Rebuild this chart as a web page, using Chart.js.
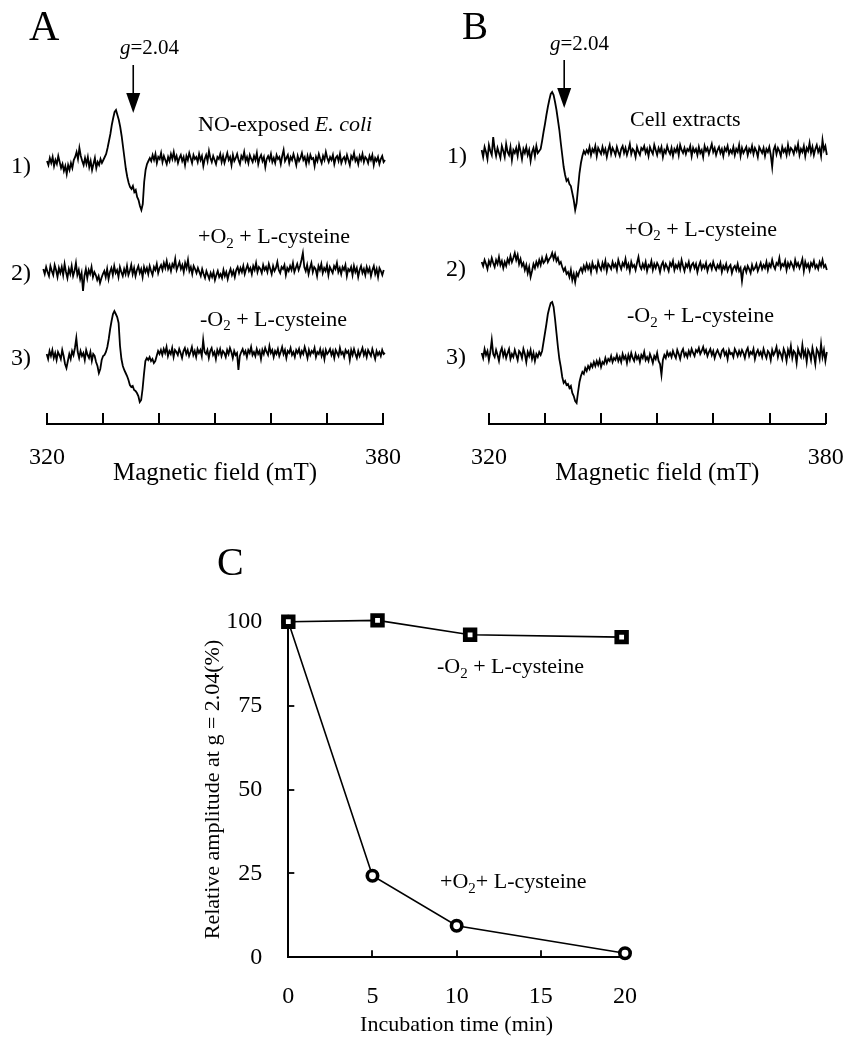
<!DOCTYPE html>
<html><head><meta charset="utf-8">
<script src="https://cdn.jsdelivr.net/npm/chart.js@4.4.1/dist/chart.umd.min.js"></script>
<style>
html,body{margin:0;padding:0;background:#fff;}
#fig{position:relative;width:855px;height:1050px;overflow:hidden;font-family:'Liberation Serif','Times New Roman',serif;color:#000;}
canvas{position:absolute;}
.t{position:absolute;white-space:nowrap;line-height:1;}
.s{font-size:0.68em;position:relative;top:0.32em;}
</style></head><body>
<div id="fig">
<canvas id="cA" width="430" height="500" style="left:0;top:0;width:430px;height:500px"></canvas>
<canvas id="cB" width="425" height="500" style="left:430px;top:0;width:425px;height:500px"></canvas>
<canvas id="cC" width="550" height="550" style="left:150px;top:500px;width:550px;height:550px"></canvas>

<div class="t" style="left:29px;top:4.8px;font-size:42px">A</div>
<div class="t" style="left:120px;top:37.4px;font-size:21px"><i>g</i>=2.04</div>
<div class="t" style="left:198px;top:113.3px;font-size:22px">NO-exposed <i>E. coli</i></div>
<div class="t" style="left:11px;top:152.9px;font-size:24px">1)</div>
<div class="t" style="left:198px;top:224.9px;font-size:22px">+O<span class="s">2</span> + L-cysteine</div>
<div class="t" style="left:11px;top:259.9px;font-size:24px">2)</div>
<div class="t" style="left:200px;top:307.6px;font-size:22px">-O<span class="s">2</span> + L-cysteine</div>
<div class="t" style="left:11px;top:344.9px;font-size:24px">3)</div>

<div class="t" style="left:462px;top:5.6px;font-size:39px">B</div>
<div class="t" style="left:550px;top:33.4px;font-size:21px"><i>g</i>=2.04</div>
<div class="t" style="left:630px;top:107.6px;font-size:22px">Cell extracts</div>
<div class="t" style="left:447px;top:142.9px;font-size:24px">1)</div>
<div class="t" style="left:625px;top:217.6px;font-size:22px">+O<span class="s">2</span> + L-cysteine</div>
<div class="t" style="left:446px;top:255.9px;font-size:24px">2)</div>
<div class="t" style="left:627px;top:304.3px;font-size:22px">-O<span class="s">2</span> + L-cysteine</div>
<div class="t" style="left:446px;top:343.9px;font-size:24px">3)</div>

<div class="t" style="left:217px;top:541.5px;font-size:40px">C</div>
<div class="t" style="left:437px;top:654.9px;font-size:22px">-O<span class="s">2</span> + L-cysteine</div>
<div class="t" style="left:440px;top:869.9px;font-size:22px">+O<span class="s">2</span>+ L-cysteine</div>
</div>
<script>
// ---------- Panels A and B: EPR spectra (deflection from baseline, arbitrary units) ----------
const fieldTicks = [320, 330, 340, 350, 360, 370, 380];
const fieldTickLabels = ['320', '', '', '', '', '', '380'];
const fieldTitle = 'Magnetic field (mT)';

// field range (mT) spanned by each recorded trace
const fieldRangeA = [[320.0, 380.36], [319.34, 380.13], [319.95, 380.36]];
const fieldRangeB = [[318.7, 380.2], [318.7, 380.2], [318.7, 380.2]];

// A 1) NO-exposed E. coli
const specA1 = [
  1, -3, 4, -1, 5, -4, 2, -2, 6, 0,
  -6, -2, -9, -4, -12, -3, -8, -1, -6, 2,
  5, 10, 3, 14, 6, 1, -3, 4, -2, 5,
  -5, 1, -8, -2, 4, -6, 0, -3, 3, -1,
  2, 5, 8, 14, 21, 28, 37, 44, 50, 52, 47, 42, 35, 26, 15, 4, -7, -15, -21, -25,
  -27, -24, -30, -28, -35, -38, -44, -48, -42, -20, -8, -2, 1,
  4, 1, 7, 2, 8, -1, 5, 3, 9, 0, 6, 2,
  -2, 5, 1, 8, 3, 10, 2, 6, -1, 4, 7, 1,
  5, -3, 6, 2, 9, 4, -1, 7, 3, 5, 0, 8,
  2, 6, -4, 3, 7, 1, 11, 4, 0, 6, 2, -2,
  5, 3, 8, 0, 6, -1, 4, 9, 2, 5, -3, 7,
  1, 4, 8, 2, -2, 6, 3, 10, 1, 5, -1, 7,
  3, 0, 6, 2, 9, -2, 4, 7, 1, 5, -5, 3,
  6, 2, 8, 0, 4, -1, 7, 3, 5, -2, 6, 12,
  1, 4, 7, -1, 5, 2, 8, 3, -3, 6, 1, 4,
  9, 2, 5, -2, 6, 0, 7, 3, 4, -4, 5, 1,
  8, 3, -1, 6, 2, 10, 4, 0, 5, 2, 7, -2,
  4, 6, 1, 8, -1, 3, 5, 0, 7, 2, -3, 6,
  3, 9, 1, 4, -2, 6, 2, 8, 0, 5, 3, -1,
  6, 2, 7, -3, 4, 1, 5, -2, 3, 6, 0, 2];
// A 2) +O2 + L-cysteine
const specA2 = [
  3, -2, 5, 0, -4, 6, 1, -3, 7, 2, -5, 4,
  -1, 5, -3, 8, 0, -6, 3, -2, 6, -4, 1, 9,
  -3, 2, -7, -1, -19, -4, 3, -6, 2, -2, 5, -5,
  0, -3, -8, -4, -11, -6, -2, 1, -5, 3, -7, 0,
  4, -3, 6, -1, 2, -5, 5, 0, -4, 3, -2, 6,
  -3, 1, 7, -2, 4, -4, 2, 6, -1, 3, -5, 5,
  0, 4, -2, 6, 1, -3, 5, 2, 8, -1, 4, 7,
  2, 9, 4, 11, 3, 7, 1, 8, 5, 13, 2, 6,
  10, 3, 7, 0, 9, 4, 12, 1, 5, -2, 6, 3,
  -1, 4, 0, -4, 3, -2, -6, 1, -3, -7, -1, -5,
  0, -8, -3, 1, -5, -2, -6, 2, -4, 0, -7, -1,
  3, -3, 1, -5, 2, 5, -1, 4, 0, 6, -2, 3,
  7, 1, 4, -2, 6, 2, 9, 0, 5, 3, -1, 7,
  2, 5, 0, 8, 3, -2, 6, 1, 4, 10, 2, -1,
  5, 3, 7, -3, 4, 1, 6, 2, 9, 0, 4, 8,
  2, 6, 12, 19, 5, 1, 7, -2, 4, 9, 0, 5,
  3, -4, 6, 2, 8, -1, 4, 1, 7, -3, 5, 2,
  -1, 6, 3, 9, 0, 4, -2, 5, 2, 7, -4, 3,
  1, 5, -3, 6, 0, 4, -5, 2, 6, -1, 3, -3,
  5, 0, 4, -4, 2, 6, -2, 3, -5, 4, 1, -3, 2];
// A 3) -O2 + L-cysteine
const specA3 = [
  2, -3, 5, 0, 6, -2, 3, -4, 4, 1, -3, 6,
  0, -8, -12, -5, 2, -3, 5, 1, 8, 18, 4, -2,
  5, 0, 3, -4, 6, 1, -2, 4, -5, 2, 0, -6,
  -10, -17, -13, -4, 0,
  1, 4, 9, 17, 27, 35, 42, 45, 42, 39, 33, 10, -3, -10, -14, -17, -20, -24, -29, -31,
  -30, -34, -35, -37, -40, -46, -44, -33, -18, -5, -2, -4, -1, -5, -3, -7, -5, 0, 5, 2,
  6, 1, 7, 3, 9, 0, 5, 2, 8, -1, 6, 4,
  1, 7, 3, -2, 5, 8, 2, 6, 0, 4, 9, 1,
  5, -1, 7, 3, 6, 0, 16, 4, 2, 6, -2, 5,
  8, 1, 4, -3, 6, 2, 7, 0, 5, 3, -1, 6,
  2, 8, 4, -2, 5, 1, 3, -14, 0, 4, 7, 2,
  5, -1, 6, 3, 9, 1, 4, 0, 7, 2, 5, -3,
  6, 2, 8, 4, 1, 10, 3, 6, -1, 5, 2, 7,
  0, 4, 9, 2, 6, -2, 5, 3, 8, 1, 4, -1,
  6, 3, 7, 0, 5, 2, 9, 4, -2, 6, 1, 5,
  3, 8, -1, 4, 2, 7, 0, 5, -3, 6, 2, 4,
  7, 1, 5, -2, 6, 3, 0, 8, 2, 4, -1, 6,
  3, 5, -4, 6, 1, 7, 2, -2, 5, 0, 4, 8,
  1, 5, -1, 6, 3, 0, 7, 2, -3, 5, 1, 4,
  0, 6, 2, 3];

// B 1) Cell extracts
const specB1 = [
  3, -4, 6, 1, -6, 8, 2, -2, 16, 4, -3, 5,
  0, -5, 7, 2, -4, 9, 1, -2, 6, -7, 3, 0,
  5, -3, 8, 2, -6, 4, 0, 6, -2, 3, -8, 1,
  5, -3, 7, 0, 2,
  4, 12, 21, 29, 38, 46, 53, 59, 61, 58, 51, 43, 33, 23, 10, -2, -14, -22, -28, -26,
  -31, -33, -40, -47, -57, -50, -35, -20, -10, -3, 2, -1, 3,
  0, 6, -2, 4, 1, 7, -3, 5, 2, -1, 6, 0,
  4, -4, 3, 8, -1, 5, 2, -2, 6, 1, -3, 4,
  7, 0, 5, -2, 3, 9, -1, 4, 2, -4, 6, 1,
  -2, 5, 3, 7, 0, 4, -3, 6, 2, -1, 8, 3,
  -2, 5, 1, 6, -4, 3, 0, 7, 2, -1, 5, -3,
  4, 1, 6, -2, 8, 3, 0, 5, -1, 4, 2, 7,
  -3, 5, 1, 4, -2, 6, 0, 3, -4, 7, 2, 5,
  -1, 4, 9, 1, 5, -2, 3, 6, 0, 4, -3, 5,
  2, 7, -1, 3, 0, 6, -2, 4, 1, 8, -3, 5,
  0, 3, 6, -2, 4, 1, 7, -1, 5, 2, -4, 6,
  3, 0, 5, -3, 4, 1, 6, -2, -14, 3, 7, -1,
  5, 2, -3, 6, 1, 4, -2, 8, 0, 5, 3, -1,
  6, 2, 9, -2, 4, 1, 7, -3, 5, 2, 10, 0,
  6, -2, 4, 8, 1, 5, -3, 13, 3, 7, -2];
// B 2) +O2 + L-cysteine
const specB2 = [
  6, 2, 8, 4, -1, 7, 3, 10, 5, 1, 8, 4,
  11, 3, 7, 0, 6, 2, 9, 5, 12, 6, 10, 15,
  8, 13, 4, 9, 2, 5, -2, 3, -5, 1, -9, -3,
  4, 0, 6, 2, 8, 3, 10, 5, 7, 12, 6, 9,
  11, 15, 9, 14, 7, 10, 4, 6, 1, -3, 0, -6,
  -4, -9, -2, -12, -6, -14, -5, -8, -3, 0, -4, 2,
  -2, 4, -1, 3, -4, 5, 0, 2, -3, 6, 1, -2,
  5, 0, 7, -3, 4, 2, -1, 6, 1, 4, -2, 8,
  3, -1, 5, 2, 9, 0, 4, -3, 6, 1, 3, -2,
  5, 11, 2, -1, 4, 0, 6, -3, 3, 1, 7, -2,
  4, 0, 5, 2, -4, 3, 6, -1, 4, 1, -3, 5,
  2, 7, -2, 3, 0, 5, -1, 8, 2, -3, 4, 1,
  6, -2, 3, 5, 0, 4, -4, 2, 6, -1, 3, 0,
  5, -3, 2, 4, -1, 6, 1, -2, 3, 0, 5, -4,
  2, -1, 4, -3, 1, 3, -5, 0, 2, -2, 4, -3,
  0, -13, -2, 1, -4, 2, -1, -5, 3, -2, 0, 4,
  -3, 1, 5, -1, 3, 0, 6, -2, 4, 1, 8, 2,
  -1, 5, 3, 10, 0, 4, 2, 7, -2, 5, 1, 6,
  3, -1, 8, 2, 5, 0, 4, 9, -3, 6, 1, 4,
  -2, 5, 2, 7, 0, 3, -1, 6, 2, 8, 1, 3, -2];
// B 3) -O2 + L-cysteine
const specB3 = [
  2, -3, 6, 0, 4, -5, 3, 15, 1, -2, 5, 0,
  -6, 3, 7, -1, 4, -3, 2, 6, -4, 1, -2, 5,
  0, -5, 4, 2, -3, 6, 1, -7, 3, -1, 5, -4,
  2, -6, 1, -2, 3, 0,
  4, 13, 22, 31, 41, 47, 52, 53, 48, 36, 22, 8, -4, -12, -22, -28, -26, -30, -29, -33,
  -31, -38, -41, -46, -48, -37, -27, -21, -17, -19, -13, -16, -11, -14, -9, -12, -7, -11, -6, -10,
  -5, -12, -7, -9, -3, -8, -4, -6, -1, -7, -3, -5, 0, -6,
  -2, -7, 1, -4, -1, -8, 0, -5, 2, -3, -6, 1,
  -4, -1, -7, 0, -3, 3, -5, -2, -6, 1, -3, -8,
  -1, -4, 2, -6, -9, -20, -5, 0, -3, 3, -1, 2,
  -2, 4, 0, -3, 5, 1, -4, 3, 6, -1, 2, -2,
  4, 0, 6, 2, -1, 5, 3, 7, 1, 4, 8, 2,
  5, -1, 3, 6, 0, 4, -3, 2, 5, 1, -2, 4,
  6, 0, 3, -4, 5, 1, 2, -2, 6, 3, -1, 4,
  0, 5, 2, -3, 4, 7, -1, 3, 1, 6, -4, 2,
  5, 0, 3, -2, 6, 1, -3, 4, 2, -5, 5, 0,
  3, 8, -2, 4, 1, -4, 6, 2, -6, 5, 0, 9,
  -3, 4, 2, -8, 6, 1, -2, 10, -1, 4, -7, 5,
  2, -5, 7, 0, -9, 6, 3, -4, 11, -2, 5, -6, 3];

// ---------- Panel C: relative amplitude at g = 2.04 ----------
const timeMinusO2 = [0, 5.3, 10.8, 19.8];
const ampMinusO2 = [100, 100.4, 96.1, 95.4];
const timePlusO2 = [0, 5, 10, 20];
const ampPlusO2 = [100, 24.3, 9.4, 1.2];
const timeTicks = [0, 5, 10, 15, 20];
const ampTicks = [0, 25, 50, 75, 100];

// ---------- layout (pixels) ----------
const SPEC_TOP = 60, SPEC_AXIS = 424;
const baselinesA = [162, 272, 356];
const baselinesB = [153, 268, 355];

Chart.defaults.font.family = "'Liberation Serif','Times New Roman',serif";
Chart.defaults.color = '#000';

const inwardTicks = {
  id: 'inwardTicks',
  beforeDatasetsDraw(chart, args, opts) {
    if (!opts || !opts.axes) return;
    const ctx = chart.ctx;
    ctx.save();
    ctx.strokeStyle = '#000';
    ctx.lineWidth = opts.width || 2;
    ctx.lineCap = 'butt';
    opts.axes.forEach(a => {
      const sc = chart.scales[a.id];
      sc.ticks.forEach(t => {
        if (a.skip && a.skip.includes(t.value)) return;
        const p = Math.round(sc.getPixelForValue(t.value));
        ctx.beginPath();
        if (sc.isHorizontal()) { ctx.moveTo(p, sc.top); ctx.lineTo(p, sc.top - a.len); }
        else { ctx.moveTo(sc.right, p); ctx.lineTo(sc.right + a.len, p); }
        ctx.stroke();
      });
    });
    ctx.restore();
  }
};
const gArrow = {
  id: 'gArrow',
  afterDatasetsDraw(chart, args, opts) {
    if (!opts || opts.field == null) return;
    const ctx = chart.ctx;
    const x = chart.scales.x.getPixelForValue(opts.field);
    ctx.save();
    ctx.strokeStyle = '#000'; ctx.fillStyle = '#000'; ctx.lineWidth = 1.6;
    ctx.beginPath(); ctx.moveTo(x, opts.top); ctx.lineTo(x, opts.tip - opts.head + 2); ctx.stroke();
    ctx.beginPath();
    ctx.moveTo(x - opts.half, opts.tip - opts.head);
    ctx.lineTo(x + opts.half, opts.tip - opts.head);
    ctx.lineTo(x, opts.tip);
    ctx.closePath(); ctx.fill();
    ctx.restore();
  }
};
Chart.register(inwardTicks, gArrow);

function spectrumChart(id, traces, ranges, baselines, arrow, padLeft, padRight) {
  const datasets = traces.map((vals, k) => ({
    data: vals.map((v, i) => ({x: ranges[k][0] + (ranges[k][1] - ranges[k][0]) * i / (vals.length - 1), y: v})),
    yAxisID: 'y' + k,
    borderColor: '#000', borderWidth: 1.8, pointRadius: 0, tension: 0, clip: false, fill: false,
    borderJoinStyle: 'miter'
  }));
  const scales = {
    x: {
      type: 'linear', position: 'bottom',
      afterDataLimits: s => { s.min = fieldTicks[0]; s.max = fieldTicks[fieldTicks.length - 1]; },
      afterBuildTicks: s => { s.ticks = fieldTicks.map(v => ({value: v})); },
      afterFit: s => { s.height = 64; },
      grid: {display: false},
      border: {display: true, color: '#000', width: 2},
      ticks: {stepSize: 10, padding: 11, autoSkip: false, maxRotation: 0, font: {size: 24}, color: '#000',
        callback: (v, i) => fieldTickLabels[i]},
      title: {display: true, text: fieldTitle, font: {size: 25}, color: '#000', padding: {top: 0, bottom: 0}}
    }
  };
  baselines.forEach((b, k) => {
    scales['y' + k] = {type: 'linear', display: false, min: -(SPEC_AXIS - b), max: b - SPEC_TOP};
  });
  return new Chart(document.getElementById(id), {
    type: 'line',
    data: {datasets},
    options: {
      responsive: false, animation: false, events: [],
      layout: {padding: {left: padLeft, right: padRight, top: SPEC_TOP, bottom: 12}},
      plugins: {legend: {display: false}, tooltip: {enabled: false},
        inwardTicks: {axes: [{id: 'x', len: 11}], width: 2},
        gArrow: arrow},
      scales
    }
  });
}

spectrumChart('cA', [specA1, specA2, specA3], fieldRangeA, baselinesA,
  {field: 335.4, top: 65, tip: 113, head: 20, half: 7}, 47, 47);
spectrumChart('cB', [specB1, specB2, specB3], fieldRangeB, baselinesB,
  {field: 333.4, top: 60, tip: 108, head: 20, half: 7}, 59, 29.3);

new Chart(document.getElementById('cC'), {
  type: 'line',
  data: {
    datasets: [
      {label: '-O2 + L-cysteine', data: timeMinusO2.map((t, i) => ({x: t, y: ampMinusO2[i]})),
        borderColor: '#000', borderWidth: 1.6, tension: 0, clip: false,
        pointStyle: 'rect', pointRadius: 6.8, pointBorderWidth: 4.8,
        pointBackgroundColor: '#fff', pointBorderColor: '#000'},
      {label: '+O2 + L-cysteine', data: timePlusO2.map((t, i) => ({x: t, y: ampPlusO2[i]})),
        borderColor: '#000', borderWidth: 1.6, tension: 0, clip: false,
        pointStyle: 'circle', pointRadius: 5.2, pointBorderWidth: 3.6,
        pointBackgroundColor: '#fff', pointBorderColor: '#000'}
    ]
  },
  options: {
    responsive: false, animation: false, events: [],
    layout: {padding: {left: 49.8, right: 75, top: 121.7, bottom: 11.2}},
    plugins: {legend: {display: false}, tooltip: {enabled: false},
      inwardTicks: {axes: [{id: 'x', len: 7, skip: [0]}, {id: 'y', len: 6, skip: [0]}], width: 1.8}},
    scales: {
      x: {type: 'linear', min: 0, max: 20,
        afterBuildTicks: s => { s.ticks = timeTicks.map(v => ({value: v})); },
        afterFit: s => { s.height = 81.5; },
        grid: {display: false}, border: {display: true, color: '#000', width: 2},
        ticks: {padding: 17, autoSkip: false, maxRotation: 0, font: {size: 24}, color: '#000'},
        title: {display: true, text: 'Incubation time (min)', font: {size: 22}, color: '#000', padding: {top: 0, bottom: 0}}},
      y: {type: 'linear', min: 0, max: 100,
        afterBuildTicks: s => { s.ticks = ampTicks.map(v => ({value: v})); },
        afterFit: s => { s.width = 88.5; },
        grid: {display: false}, border: {display: true, color: '#000', width: 2},
        ticks: {padding: 18, autoSkip: false, font: {size: 24}, color: '#000'},
        title: {display: true, text: 'Relative amplitude at g = 2.04(%)', font: {size: 22}, color: '#000', padding: {top: 0, bottom: 0}}}
    }
  }
});
</script>
</body></html>
